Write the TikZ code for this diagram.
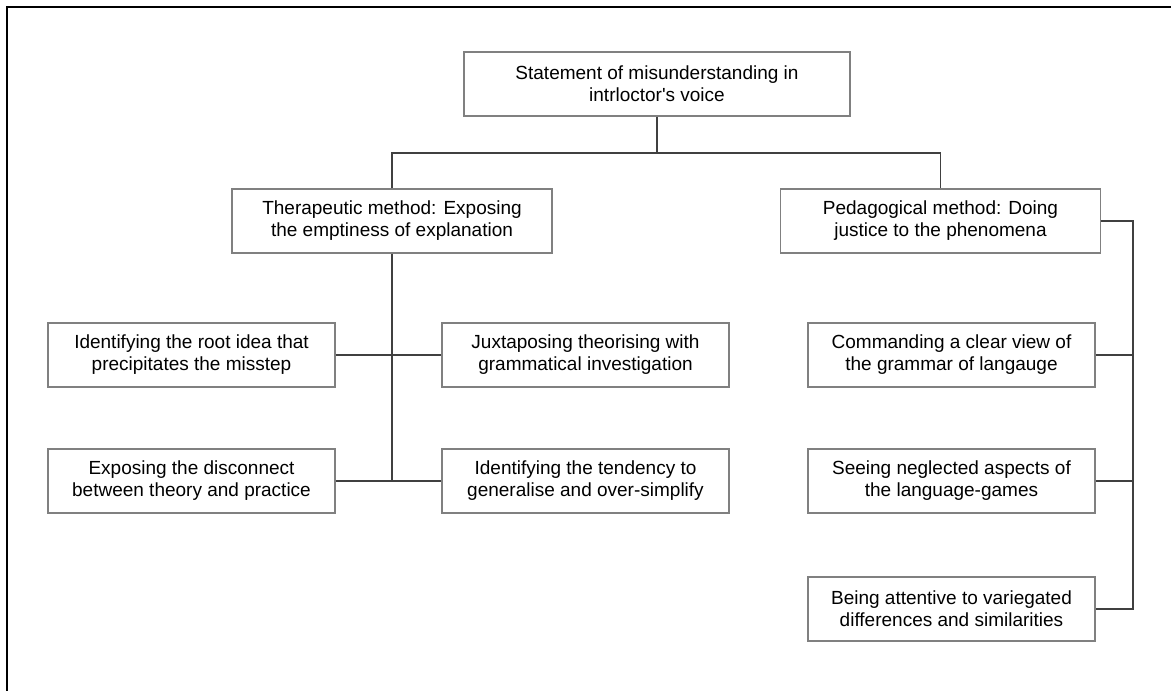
\documentclass[tikz,border=0pt]{standalone}
\usepackage{fontspec}
\setmainfont{Liberation Sans}
\usetikzlibrary{positioning}

\tikzset{
  box/.style={draw=black!50, line width=1.4pt, fill=white, align=center,
    minimum height=64pt, inner sep=0pt, font=\fontsize{19}{22}\selectfont},
  smallbox/.style={box, minimum width=287pt},
  link/.style={draw=black!75, line width=1.4pt}
}

\begin{document}
\begin{tikzpicture}[x=1pt,y=-1pt]
  \useasboundingbox (0,0) rectangle (1171,691);
  % frame
  \draw[line width=2.2pt] (7,691) -- (7,7) -- (1171,7);

  \node[box, minimum width=386pt] (top) at (657,84) {Statement of misunderstanding in\\intrloctor\textquotesingle s voice};
  \node[box, minimum width=320pt] (ther) at (392,221) {Therapeutic method: Exposing\\the emptiness of explanation};
  \node[box, minimum width=320pt] (peda) at (940.5,221) {Pedagogical method: Doing\\justice to the phenomena};

  \node[smallbox] (root) at (191.5,355) {Identifying the root idea that\\precipitates the misstep};
  \node[smallbox] (juxt) at (585.5,355) {Juxtaposing theorising with\\grammatical investigation};
  \node[smallbox] (expo) at (191.5,481) {Exposing the disconnect\\between theory and practice};
  \node[smallbox] (tend) at (585.5,481) {Identifying the tendency to\\generalise and over-simplify};

  \node[smallbox] (comm) at (951.5,355) {Commanding a clear view of\\the grammar of langauge};
  \node[smallbox] (seei) at (951.5,481) {Seeing neglected aspects of\\the language-games};
  \node[smallbox] (bein) at (951.5,609) {Being attentive to variegated\\differences and similarities};

  \coordinate (split) at (657,153);
  \coordinate (trunk) at (392,481);
  \coordinate (rail) at (1133,609);

  \draw[link] (top.south) -- (split);
  \draw[link] (ther.north) |- (split) -| (peda.north);
  \draw[link] (ther.south) -- (trunk);
  \draw[link] (root.east) -- (juxt.west);
  \draw[link] (expo.east) -- (tend.west);
  \draw[link] (peda.east) -| (rail) -- (bein.east);
  \draw[link] (comm.east) -- (comm.east -| rail);
  \draw[link] (seei.east) -- (seei.east -| rail);
\end{tikzpicture}
\end{document}
